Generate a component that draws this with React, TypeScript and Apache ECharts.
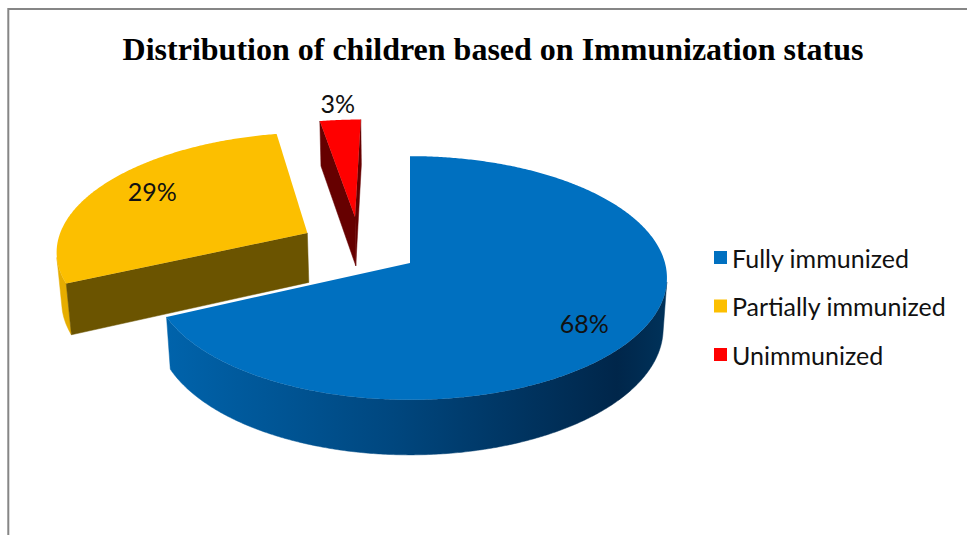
import { useEffect, useRef } from "react";
import * as echarts from "echarts";

// Share of children by immunization status (percent)
const categories = ["Fully immunized", "Partially immunized", "Unimmunized"];
const values = [68, 29, 3];
const chartTitle = "Distribution of children based on Immunization status";

// Slice appearance
const topColors = ["#0070C0", "#FCBF00", "#FF0000"];
const wallColors = ["#00457C", "#E6AD00", "#B80000"];
const sideColors = ["#003560", "#6B5400", "#660000"];
// Exploded offsets: distance (world px) and bearing (deg, clockwise from 12 o'clock)
const explode = [
  { dist: 0, bearing: 0 },
  { dist: 124.6, bearing: 301.8 },
  { dist: 117.6, bearing: 330.6 },
];
// Label placement: radius fraction and bearing shift from the slice middle
const labelPlace = [
  { r: 0.8, shift: 4 },
  { r: 0.78, shift: 3 },
  { r: 1.2, shift: 0 },
];
const drawOrder = [4, 3, 2];

// 3D pie geometry
const CX = 410;
const CY = 263;
const R = 255;
const H = 58;
const TILT = 28.07;
const CAM = 1831;
const DEG = Math.PI / 180;
const SIN_T = Math.sin(TILT * DEG);
const COS_T = Math.cos(TILT * DEG);
const camPos = [0, CAM * SIN_T, -CAM * COS_T];

const FONT = "Lato, 'Open Sans', sans-serif";

function project(x: number, y: number, z: number): number[] {
  const Y = y * COS_T + z * SIN_T;
  const d = z * COS_T - y * SIN_T;
  const s = CAM / (CAM + d);
  return [CX + x * s, CY - Y * s];
}

function facing(n: number[], p: number[]): boolean {
  return (
    n[0] * (camPos[0] - p[0]) +
      n[1] * (camPos[1] - p[1]) +
      n[2] * (camPos[2] - p[2]) >
    0
  );
}

const total = values.reduce((a, b) => a + b, 0);
const starts: number[] = [];
const ends: number[] = [];
values.reduce((acc, v, i) => {
  starts[i] = (acc / total) * 360;
  ends[i] = ((acc + v) / total) * 360;
  return acc + v;
}, 0);

const blueWall = new echarts.graphic.LinearGradient(0, 0, 1, 0, [
  { offset: 0, color: "#0063AB" },
  { offset: 0.45, color: "#00477F" },
  { offset: 0.9, color: "#00264A" },
  { offset: 1, color: "#00325A" },
]);

function makeRenderItem(i: number) {
  return (_params: any, api: any) => {
    const a0 = api.value(0) as number;
    const a1 = api.value(1) as number;
    const v = api.value(2) as number;
    const ex = explode[i];
    const ox = ex.dist * Math.sin(ex.bearing * DEG);
    const oz = ex.dist * Math.cos(ex.bearing * DEG);
    const pt = (r: number, th: number, y: number) =>
      project(ox + r * Math.sin(th * DEG), y, oz + r * Math.cos(th * DEG));

    const n = Math.max(2, Math.ceil((a1 - a0) * 2));
    const th: number[] = [];
    for (let k = 0; k <= n; k++) th.push(a0 + ((a1 - a0) * k) / n);

    const children: any[] = [];
    const wallFill = i === 0 ? blueWall : wallColors[i];

    // curved outer wall, only the parts turned towards the viewer
    let run: number[] = [];
    const flush = () => {
      if (run.length > 1) {
        const pts = run
          .map((t) => pt(R, t, 0))
          .concat(
            run
              .slice()
              .reverse()
              .map((t) => pt(R, t, -H))
          );
        children.push({
          type: "polygon",
          shape: { points: pts },
          style: { fill: wallFill, stroke: wallFill, lineWidth: 0.5 },
        });
      }
      run = [];
    };
    for (let k = 0; k < n; k++) {
      const tm = ((th[k] + th[k + 1]) / 2) * DEG;
      const nrm = [Math.sin(tm), 0, Math.cos(tm)];
      const p = [ox + R * Math.sin(tm), -H / 2, oz + R * Math.cos(tm)];
      if (facing(nrm, p)) {
        if (run.length === 0) run.push(th[k]);
        run.push(th[k + 1]);
      } else {
        flush();
      }
    }
    flush();

    // flat radial faces at both cut edges
    const radial = (t: number, nrm: number[]) => {
      const p = [
        ox + (R / 2) * Math.sin(t * DEG),
        -H / 2,
        oz + (R / 2) * Math.cos(t * DEG),
      ];
      if (!facing(nrm, p)) return;
      children.push({
        type: "polygon",
        shape: { points: [pt(0, t, 0), pt(R, t, 0), pt(R, t, -H), pt(0, t, -H)] },
        style: { fill: sideColors[i], stroke: sideColors[i], lineWidth: 0.5 },
      });
    };
    radial(a0, [-Math.cos(a0 * DEG), 0, Math.sin(a0 * DEG)]);
    radial(a1, [Math.cos(a1 * DEG), 0, -Math.sin(a1 * DEG)]);

    // top face
    const top = [pt(0, a0, 0)].concat(th.map((t) => pt(R, t, 0)));
    children.push({
      type: "polygon",
      shape: { points: top },
      style: { fill: topColors[i] },
    });

    // percentage label
    const lp = labelPlace[i];
    const mid = (a0 + a1) / 2 + lp.shift;
    const [lx, ly] = pt(R * lp.r, mid, 0);
    children.push({
      type: "text",
      style: {
        text: `${v}%`,
        x: lx,
        y: ly,
        align: "center",
        verticalAlign: "middle",
        fill: "#111111",
        fontSize: 25,
        fontFamily: FONT,
      },
    });

    return { type: "group", children };
  };
}

export default function App() {
  const ref = useRef<HTMLDivElement>(null);

  useEffect(() => {
    if (!ref.current) return;
    const chart = echarts.init(ref.current, undefined, { renderer: "svg" });
    chart.setOption({
      animation: false,
      backgroundColor: "#ffffff",
      legend: {
        data: categories,
        orient: "vertical",
        left: 714,
        top: 245,
        padding: 0,
        icon: "rect",
        itemWidth: 13,
        itemHeight: 13,
        itemGap: 23.5,
        selectedMode: false,
        textStyle: {
          color: "#111111",
          fontSize: 25,
          lineHeight: 24,
          fontFamily: FONT,
        },
      },
      graphic: [
        {
          type: "polyline",
          shape: { points: [[8.3, 535], [8.3, 9], [967, 9]] },
          style: { stroke: "#868686", lineWidth: 2, fill: "none" },
          silent: true,
        },
        {
          type: "text",
          x: 493,
          y: 49,
          style: {
            text: chartTitle,
            align: "center",
            verticalAlign: "middle",
            fill: "#000000",
            fontSize: 32,
            fontWeight: "bold",
            fontFamily: "'Liberation Serif', 'DejaVu Serif', serif",
          },
        },
      ],
      series: categories.map((name, i) => ({
        type: "custom",
        name,
        coordinateSystem: "none",
        z: drawOrder[i],
        itemStyle: { color: topColors[i] },
        data: [[starts[i], ends[i], values[i]]],
        renderItem: makeRenderItem(i),
      })),
    });
    return () => chart.dispose();
  }, []);

  return (
    <div
      ref={ref}
      style={{ position: "absolute", left: 0, top: 0, width: 967, height: 535 }}
    />
  );
}
